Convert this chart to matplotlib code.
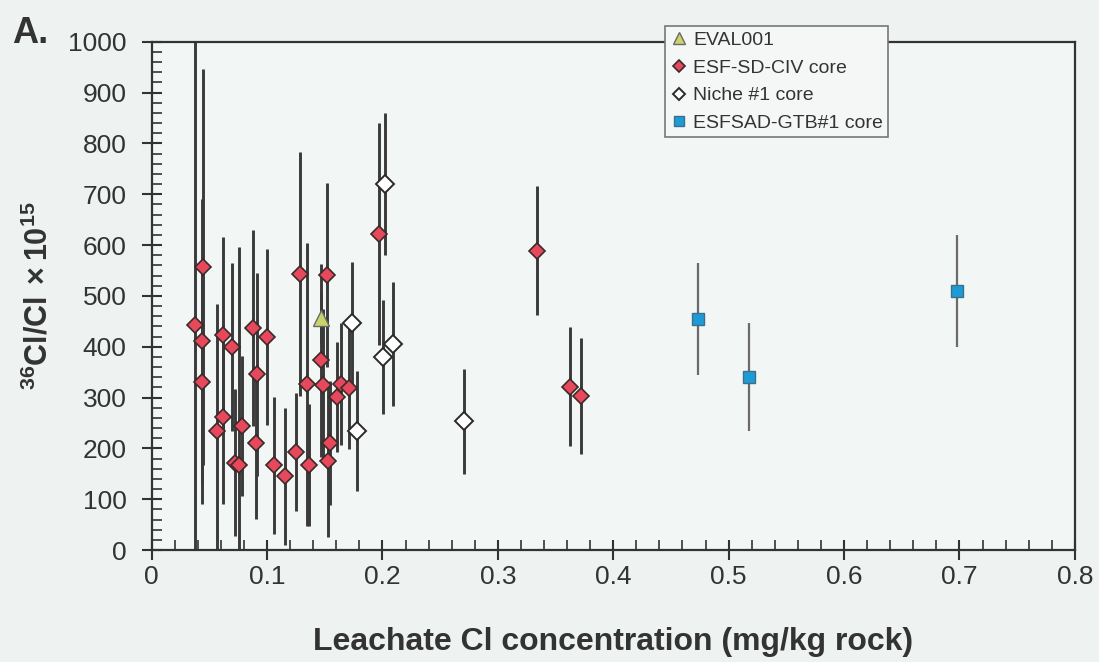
import matplotlib
matplotlib.use("Agg")
import matplotlib.pyplot as plt
from matplotlib.ticker import MultipleLocator

plt.rcParams['font.family'] = ['Liberation Sans', 'DejaVu Sans']
plt.rcParams['mathtext.fontset'] = 'custom'
plt.rcParams['mathtext.rm'] = 'Liberation Sans'
plt.rcParams['mathtext.bf'] = 'Liberation Sans:bold'

# ---- data ----
eval_x = [0.147]
eval_y = [457]
eval_err = [50]

esf_x = [0.0376, 0.0448, 0.0439, 0.0439, 0.0616, 0.0694, 0.0621, 0.0564, 0.0781,
         0.0722, 0.0760, 0.0876, 0.0997, 0.0916, 0.0905, 0.1061, 0.1156, 0.1286,
         0.1252, 0.1344, 0.1367, 0.1518, 0.1466, 0.1483, 0.1639, 0.1604, 0.1714,
         0.1546, 0.1532, 0.1974, 0.3339, 0.3628, 0.3721]
esf_y = [442, 557, 411, 330, 424, 400, 261, 234, 244, 172, 167, 437, 420, 346, 211,
         167, 145, 544, 193, 326, 168, 541, 373, 325, 326, 301, 318, 211, 175, 622,
         589, 321, 303]
esf_err = [590, 390, 280, 240, 192, 165, 170, 250, 137, 145, 430, 192, 173, 200, 150,
           135, 135, 240, 117, 278, 120, 181, 190, 150, 120, 108, 120, 122, 150, 219,
           127, 117, 114]

niche_x = [0.2023, 0.1735, 0.1783, 0.2009, 0.2095, 0.2709]
niche_y = [720, 446, 234, 379, 406, 253]
niche_err = [139, 121, 118, 112, 122, 104]

gtb_x = [0.4732, 0.5174, 0.6976]
gtb_y = [454, 340, 510]
gtb_err = [110, 106, 110]

xtick_vals = [0, 0.1, 0.2, 0.3, 0.4, 0.5, 0.6, 0.7, 0.8]
xtick_labels = ['0', '0.1', '0.2', '0.3', '0.4', '0.5', '0.6', '0.7', '0.8']
labels = ["EVAL001", "ESF-SD-CIV core", "Niche #1 core", "ESFSAD-GTB#1 core"]

# ---- figure ----
bg = '#eef2f0'
fig = plt.figure(figsize=(10.99, 6.62), dpi=100, facecolor=bg)
ax = fig.add_axes([0.138, 0.169, 0.840, 0.768], facecolor='#f2f6f4')

ecol = '#3a3a3a'
for xs, ys, es, col, lw in [(esf_x, esf_y, esf_err, ecol, 2.1),
                            (niche_x, niche_y, niche_err, ecol, 2.1),
                            (eval_x, eval_y, eval_err, ecol, 2.1),
                            (gtb_x, gtb_y, gtb_err, '#6a6a6a', 1.6)]:
    ax.errorbar(xs, ys, yerr=es, fmt='none', ecolor=col, elinewidth=lw,
                capsize=0, zorder=2)

ax.plot(eval_x, eval_y, linestyle='none', marker='^', ms=11,
        mfc='#c9d46c', mec='#6a6a6a', mew=1.0, zorder=4, label=labels[0])
ax.plot(esf_x, esf_y, linestyle='none', marker='D', ms=8.3,
        mfc='#e8485c', mec='#3a2a2a', mew=1.2, zorder=4, label=labels[1])
ax.plot(niche_x, niche_y, linestyle='none', marker='D', ms=8.7,
        mfc='white', mec='#2a2a2a', mew=1.4, zorder=4, label=labels[2])
ax.plot(gtb_x, gtb_y, linestyle='none', marker='s', ms=9,
        mfc='#1e9bd7', mec='#3c6f8a', mew=1.0, zorder=4, label=labels[3])

ax.set_xlim(0, 0.8)
ax.set_ylim(0, 1000)
ax.set_xticks(xtick_vals)
ax.set_xticklabels(xtick_labels)
ax.xaxis.set_minor_locator(MultipleLocator(0.02))
ax.yaxis.set_major_locator(MultipleLocator(100))
ax.yaxis.set_minor_locator(MultipleLocator(20))

ax.tick_params(which='major', direction='inout', length=14, width=1.5,
               color='#333333', labelsize=19, labelcolor='#333333')
ax.tick_params(which='minor', direction='in', length=7, width=1.2, color='#333333')
ax.tick_params(axis='x', which='major', pad=4)
ax.tick_params(axis='y', which='major', pad=11)
for s in ax.spines.values():
    s.set_linewidth(1.6)
    s.set_color('#333333')

ax.set_xlabel('Leachate Cl concentration (mg/kg rock)', fontsize=23,
              fontweight='bold', color='#333333', labelpad=27)
ax.set_ylabel(r'$\mathbf{^{36}Cl/Cl\,\times 10^{15}}$', fontsize=22,
              color='#333333', labelpad=10)

fig.text(0.011, 0.935, 'A.', fontsize=26, fontweight='bold', color='#333333')

leg = ax.legend(loc='upper left', bbox_to_anchor=(0.556, 1.03), fontsize=14,
                frameon=True, fancybox=False, framealpha=1, facecolor='#f4f7f6',
                edgecolor='#777777', handletextpad=0.3, handlelength=0.9,
                labelspacing=0.52, borderpad=0.25, markerscale=0.75,
                borderaxespad=0)
leg.get_frame().set_linewidth(1.2)
for t in leg.get_texts():
    t.set_color('#333333')
leg.set_zorder(10)

fig.savefig('out.png', dpi=100, facecolor=bg)
